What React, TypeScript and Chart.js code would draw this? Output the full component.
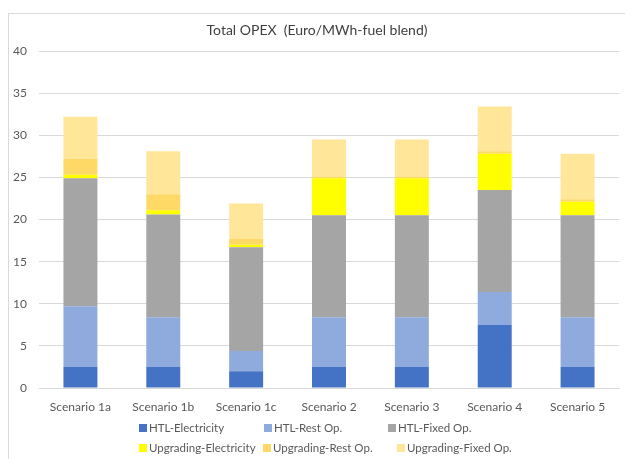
import React, { useEffect, useRef } from "react";
import { Chart, registerables } from "chart.js";

Chart.register(...registerables);

const categories = ["Scenario 1a", "Scenario 1b", "Scenario 1c", "Scenario 2", "Scenario 3", "Scenario 4", "Scenario 5"];
const htlElectricity = [2.5, 2.5, 2.0, 2.5, 2.5, 7.5, 2.5];
const htlRest = [7.2, 5.9, 2.4, 5.9, 5.9, 3.9, 5.9];
const htlFixed = [15.2, 12.2, 12.3, 12.1, 12.1, 12.1, 12.1];
const upgElectricity = [0.4, 0.5, 0.3, 4.4, 4.4, 4.3, 1.6];
const upgRest = [1.9, 1.9, 0.7, 0.2, 0.2, 0.3, 0.3];
const upgFixed = [5.0, 5.1, 4.2, 4.4, 4.4, 5.3, 5.4];
const yTicks = [0, 5, 10, 15, 20, 25, 30, 35, 40];

const seriesNames = ["HTL-Electricity", "HTL-Rest Op.", "HTL-Fixed Op.", "Upgrading-Electricity", "Upgrading-Rest Op.", "Upgrading-Fixed Op."];
const seriesValues = [htlElectricity, htlRest, htlFixed, upgElectricity, upgRest, upgFixed];
const seriesColors = ["#4472C4", "#8FAADC", "#A5A5A5", "#FFFF00", "#FFD966", "#FFE699"];

const FONT = "Lato, 'Open Sans', sans-serif";
const TEXT = "#595959";

const legendPlugin = {
  id: "customLegend",
  afterDraw(chart: any) {
    const ctx = chart.ctx;
    const cols = [[130, 255, 379], [130, 254, 388]];
    const rows = [414, 434];
    ctx.save();
    ctx.font = `11.5px ${FONT}`;
    ctx.textBaseline = "middle";
    ctx.textAlign = "left";
    chart.data.datasets.forEach((ds: any, i: number) => {
      const r = Math.floor(i / 3);
      const c = i % 3;
      const x = cols[r][c];
      const y = rows[r];
      ctx.fillStyle = ds.backgroundColor;
      ctx.fillRect(x, y - 4, 8, 8);
      ctx.fillStyle = TEXT;
      ctx.fillText(ds.label, x + 10, y);
    });
    ctx.restore();
  },
};

const titlePlugin = {
  id: "customTitle",
  afterDraw(chart: any) {
    const ctx = chart.ctx;
    ctx.save();
    ctx.font = `14px ${FONT}`;
    ctx.fillStyle = "#404040";
    ctx.textAlign = "center";
    ctx.textBaseline = "middle";
    ctx.fillText("Total OPEX  (Euro/MWh-fuel blend)", chart.width / 2, 16);
    ctx.restore();
  },
};

export default function App() {
  const ref = useRef<HTMLCanvasElement>(null);
  useEffect(() => {
    if (!ref.current) return;
    const chart = new Chart(ref.current, {
      type: "bar",
      data: {
        labels: categories,
        datasets: seriesNames.map((name, i) => ({
          label: name,
          data: seriesValues[i],
          backgroundColor: seriesColors[i],
          borderWidth: 0,
          barPercentage: 0.41,
          categoryPercentage: 1,
        })),
      },
      options: {
        animation: false,
        responsive: true,
        maintainAspectRatio: false,
        layout: { padding: { top: 37, right: 6, bottom: 40, left: 0 } },
        plugins: {
          legend: { display: false },
          title: { display: false },
          tooltip: { enabled: false },
        },
        scales: {
          x: {
            stacked: true,
            grid: { display: false, drawTicks: false },
            border: { display: true, color: "#d9d9d9" },
            ticks: { color: TEXT, font: { family: FONT, size: 12 }, padding: 12 },
            afterFit: (s: any) => { s.height = 31; },
          },
          y: {
            stacked: true,
            min: 0,
            max: 40,
            afterBuildTicks: (s: any) => { s.ticks = yTicks.map((v) => ({ value: v })); },
            grid: { color: "#d9d9d9", drawTicks: false },
            border: { display: false },
            ticks: { color: TEXT, font: { family: FONT, size: 12 }, padding: 12 },
            afterFit: (s: any) => { s.width = 30; },
          },
        },
      },
      plugins: [legendPlugin, titlePlugin],
    });
    return () => chart.destroy();
  }, []);
  return (
    <div
      style={{
        position: "absolute",
        left: 8,
        top: 13,
        width: 617,
        height: 446,
        borderLeft: "1px solid #d9d9d9",
        borderTop: "1px solid #d9d9d9",
        boxSizing: "border-box",
        background: "#fff",
      }}
    >
      <canvas ref={ref} />
    </div>
  );
}
